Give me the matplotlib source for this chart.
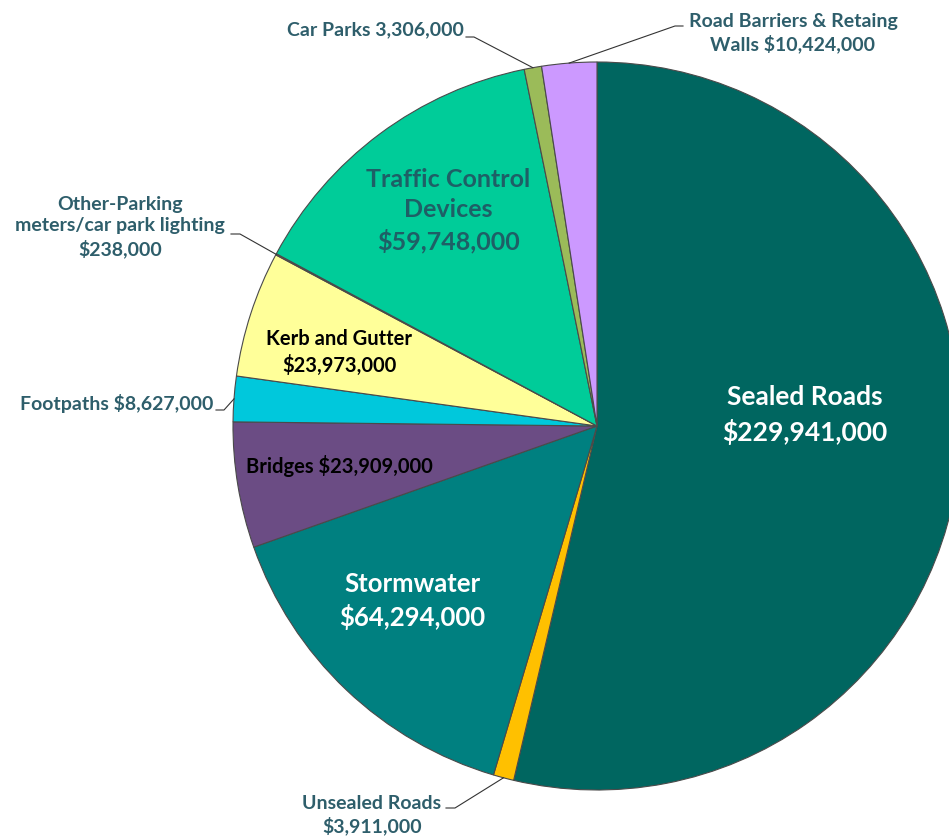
import numpy as np
import matplotlib.pyplot as plt

plt.rcParams['font.family'] = ['Lato', 'DejaVu Sans']

# Данные: стоимость активов по категориям ($)
categories = ['Sealed Roads', 'Unsealed Roads', 'Stormwater', 'Bridges', 'Footpaths',
              'Kerb and Gutter', 'Other-Parking meters/car park lighting',
              'Traffic Control Devices', 'Car Parks', 'Road Barriers & Retaing Walls']
values = [229941000, 3911000, 64294000, 23909000, 8627000,
          23973000, 238000, 59748000, 3306000, 10424000]
colors = ['#006660', '#FFC000', '#008080', '#6B4C84', '#00C8DC',
          '#FFFF99', '#C0504D', '#00CC99', '#9BBB59', '#CC99FF']

W, H = 949, 836
CX, CY, R = 597, 426, 364   # центр и радиус круга в пикселях


def px(x, y):
    """ Пиксели картинки -> координаты данных. """
    return (x - CX) / R, (CY - y) / R


fig = plt.figure(figsize=(W / 100, H / 100), dpi=100)
ax = fig.add_axes([0, 0, 1, 1])
wedges, _ = ax.pie(values, colors=colors, startangle=90, counterclock=False,
                   wedgeprops=dict(edgecolor='#4a4a4a', linewidth=0.8))
ax.set_xlim(px(0, 0)[0], px(W, 0)[0])
ax.set_ylim(px(0, H)[1], px(0, 0)[1])
ax.set_aspect('auto')
ax.axis('off')


def money(v):
    return '${:,}'.format(v)


def edge_point(i):
    """ Точка на краю сектора i (середина дуги). """
    w = wedges[i]
    a = np.deg2rad((w.theta1 + w.theta2) / 2)
    return np.cos(a), np.sin(a)


# Подписи внутри секторов
inner = [
    (0, 'Sealed Roads\n' + money(values[0]), (805, 415), 'white', 19, 1.42),
    (2, 'Stormwater\n' + money(values[2]), (412, 601), 'white', 18.5, 1.35),
    (7, 'Traffic Control\nDevices\n' + money(values[7]), (448, 211), '#1E5F66', 18, 1.38),
    (5, 'Kerb and Gutter\n' + money(values[5]), (339, 352), 'black', 14.5, 1.35),
    (3, 'Bridges ' + money(values[3]), (339, 466), 'black', 14.5, 1.2),
]
for i, txt, (x, y), c, fs, ls in inner:
    ax.text(*px(x, y), txt, ha='center', va='center', color=c, fontsize=fs,
            fontweight='bold', linespacing=ls)

# Подписи снаружи с выносными линиями
lab_col = '#2E5E6B'
outer = [
    (8, 'Car Parks 3,306,000', (375, 30), (466, 37), (474, 37)),
    (9, 'Road Barriers & Retaing\nWalls ' + money(values[9]), (793, 33), (683, 26), (675, 26)),
    (6, 'Other-Parking\nmeters/car park lighting\n' + money(values[6]), (120, 227), (231, 234), (240, 234)),
    (4, 'Footpaths ' + money(values[4]), (117, 404), (216, 410), (224, 410)),
    (1, 'Unsealed Roads\n' + money(values[1]), (372, 815), (446, 808), (455, 808)),
]
for i, txt, (x, y), (sx, sy), (kx, ky) in outer:
    ax.text(*px(x, y), txt, ha='center', va='center', color=lab_col, fontsize=14,
            fontweight='bold', linespacing=1.3)
    ex, ey = edge_point(i)
    p0 = px(sx, sy)
    p1 = px(kx, ky)
    ax.plot([p0[0], p1[0], ex], [p0[1], p1[1], ey], color='#333333', lw=0.8)

plt.savefig('out.png', dpi=100)
